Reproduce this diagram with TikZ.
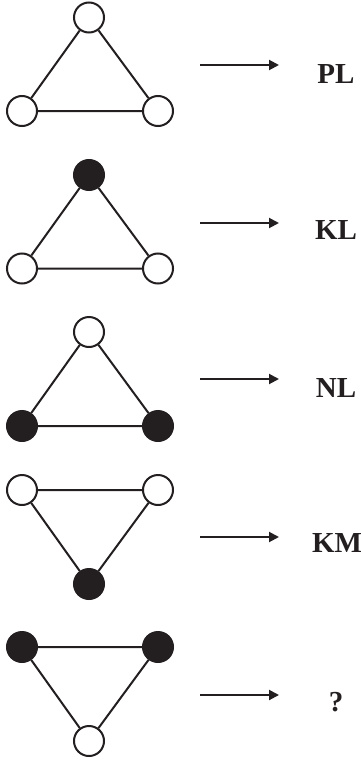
\documentclass[tikz,border=0pt]{standalone}
\usepackage{fontspec}
\setmainfont{Liberation Serif}
\usetikzlibrary{arrows.meta}
\definecolor{ink}{HTML}{231F20}
\begin{document}
\begin{tikzpicture}[x=1pt,y=-1pt,
  vtx/.style={circle,draw=ink,line width=2pt,minimum size=30pt,inner sep=0pt},
  wv/.style={vtx,fill=white},
  bv/.style={vtx,fill=ink},
  edge/.style={draw=ink,line width=2pt},
  arr/.style={draw=ink,line width=2pt,-{Triangle[length=10pt,width=10pt]}},
  lab/.style={anchor=base,font=\fontsize{29}{31}\selectfont\bfseries,text=ink,inner sep=0pt}]
\useasboundingbox (0,0) rectangle (361,760);
% row 1
\node[wv] (a1) at (89,17.5) {};
\node[wv] (b1) at (22,111) {};
\node[wv] (c1) at (158,111) {};
\draw[edge] (a1) -- (b1) (b1) -- (c1) (c1) -- (a1);
\coordinate (s1) at (200,65); \coordinate (e1) at (279,65);
\draw[arr] (s1) -- (e1);
\node[lab] (t1) at (336,83) {PL};
% row 2
\node[bv] (a2) at (89,175) {};
\node[wv] (b2) at (22,268.5) {};
\node[wv] (c2) at (158,268.5) {};
\draw[edge] (a2) -- (b2) (b2) -- (c2) (c2) -- (a2);
\coordinate (s2) at (200,223); \coordinate (e2) at (279,223);
\draw[arr] (s2) -- (e2);
\node[lab] (t2) at (336,239) {KL};
% row 3
\node[wv] (a3) at (89,332) {};
\node[bv] (b3) at (22,426) {};
\node[bv] (c3) at (158,426) {};
\draw[edge] (a3) -- (b3) (b3) -- (c3) (c3) -- (a3);
\coordinate (s3) at (200,379); \coordinate (e3) at (279,379);
\draw[arr] (s3) -- (e3);
\node[lab] (t3) at (336,397) {NL};
% row 4
\node[wv] (a4) at (22,490) {};
\node[wv] (b4) at (158,490) {};
\node[bv] (c4) at (89,584) {};
\draw[edge] (a4) -- (b4) (b4) -- (c4) (c4) -- (a4);
\coordinate (s4) at (200,537); \coordinate (e4) at (279,537);
\draw[arr] (s4) -- (e4);
\node[lab] (t4) at (337,552) {KM};
% row 5
\node[bv] (a5) at (22,647) {};
\node[bv] (b5) at (158,647) {};
\node[wv] (c5) at (89,741) {};
\draw[edge] (a5) -- (b5) (b5) -- (c5) (c5) -- (a5);
\coordinate (s5) at (200,695); \coordinate (e5) at (279,695);
\draw[arr] (s5) -- (e5);
\node[lab] (t5) at (336,711) {?};
\end{tikzpicture}
\end{document}
